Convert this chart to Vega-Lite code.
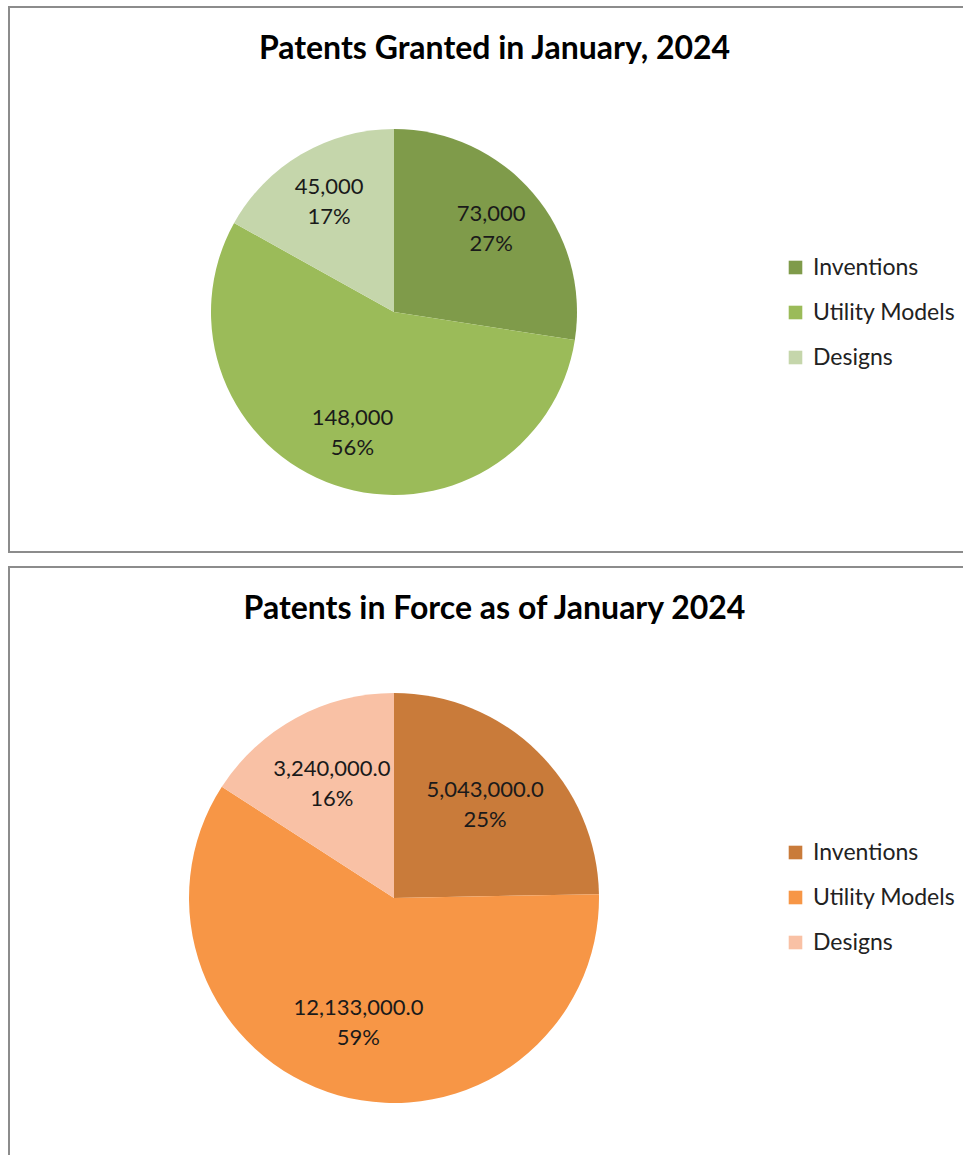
{
  "$schema": "https://vega.github.io/schema/vega-lite/v6.json",
  "background": "white",
  "padding": {"left": 8, "top": 6, "right": 0, "bottom": 0},
  "config": {
    "view": {"stroke": "#8c8c8c", "strokeWidth": 2},
    "font": "Lato",
    "legend": {"padding": 0}
  },
  "spacing": 13,
  "resolve": {"scale": {"color": "independent"}, "legend": {"color": "independent"}},
  "vconcat": [
    {
      "width": 955,
      "height": 545,
      "view": {"stroke": "#8c8c8c", "strokeWidth": 2, "fill": "white"},
      "title": {"text": "Patents Granted in January, 2024", "font": "Lato", "fontSize": 32, "fontWeight": "bold", "color": "#000000", "anchor": "middle", "offset": -59, "dx": 8},
      "data": {"values": [
        {"category": "Inventions", "value": 73000, "order": 1, "label": "73,000\n27%"},
        {"category": "Utility Models", "value": 148000, "order": 2, "label": "148,000\n56%"},
        {"category": "Designs", "value": 45000, "order": 3, "label": "45,000\n17%"}
      ]},
      "encoding": {
        "theta": {"field": "value", "type": "quantitative", "stack": true},
        "order": {"field": "order", "type": "ordinal"}
      },
      "layer": [
        {
          "mark": {"type": "arc", "outerRadius": 183, "x": 385, "y": 305},
          "encoding": {
            "color": {
              "field": "category", "type": "nominal",
              "scale": {"domain": ["Inventions", "Utility Models", "Designs"], "range": ["#7f9b4a", "#9bbb59", "#c5d6ab"]},
              "legend": {"title": null, "orient": "none", "legendX": 775, "legendY": 249, "symbolType": "square", "symbolSize": 185, "symbolStrokeWidth": 0, "labelFont": "Lato", "labelFontSize": 23, "labelColor": "#222222", "labelOffset": 6, "rowPadding": 21}
            }
          }
        },
        {
          "mark": {"type": "text", "radius": 128, "x": 385, "y": 305, "dy": -15, "font": "Lato", "fontSize": 22, "lineBreak": "\n", "lineHeight": 30, "color": "#1a1a1a"},
          "encoding": {"text": {"field": "label", "type": "nominal"}}
        }
      ]
    },
    {
      "width": 955,
      "height": 589,
      "view": {"stroke": "#8c8c8c", "strokeWidth": 2, "fill": "white"},
      "title": {"text": "Patents in Force as of January 2024", "font": "Lato", "fontSize": 32, "fontWeight": "bold", "color": "#000000", "anchor": "middle", "offset": -59, "dx": 8},
      "data": {"values": [
        {"category": "Inventions", "value": 5043000, "order": 1, "label": "5,043,000.0\n25%"},
        {"category": "Utility Models", "value": 12133000, "order": 2, "label": "12,133,000.0\n59%"},
        {"category": "Designs", "value": 3240000, "order": 3, "label": "3,240,000.0\n16%"}
      ]},
      "encoding": {
        "theta": {"field": "value", "type": "quantitative", "stack": true},
        "order": {"field": "order", "type": "ordinal"}
      },
      "layer": [
        {
          "mark": {"type": "arc", "outerRadius": 205, "x": 385, "y": 331},
          "encoding": {
            "color": {
              "field": "category", "type": "nominal",
              "scale": {"domain": ["Inventions", "Utility Models", "Designs"], "range": ["#c97b3a", "#f79646", "#f9c1a5"]},
              "legend": {"title": null, "orient": "none", "legendX": 775, "legendY": 274, "symbolType": "square", "symbolSize": 185, "symbolStrokeWidth": 0, "labelFont": "Lato", "labelFontSize": 23, "labelColor": "#222222", "labelOffset": 6, "rowPadding": 21}
            }
          }
        },
        {
          "mark": {"type": "text", "radius": 130, "x": 385, "y": 331, "dy": -15, "font": "Lato", "fontSize": 22, "lineBreak": "\n", "lineHeight": 30, "color": "#1a1a1a"},
          "encoding": {"text": {"field": "label", "type": "nominal"}}
        }
      ]
    }
  ]
}
